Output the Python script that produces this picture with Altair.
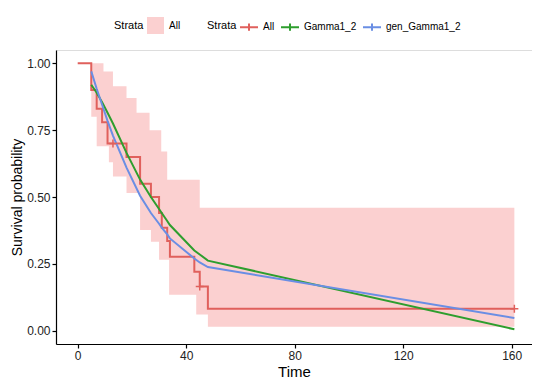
import altair as alt
import pandas as pd

# Kaplan-Meier estimate (All)
km_time = [0, 5, 7, 9, 11, 18, 23, 27, 30, 31, 33, 34, 43, 45, 48, 161]
km_surv = [1.0, 0.90, 0.83, 0.78, 0.70, 0.65, 0.55, 0.50, 0.44, 0.385, 0.335, 0.276, 0.22, 0.165, 0.082, 0.082]

# censoring marks
cens_time = [13, 45, 161]
cens_surv = [0.70, 0.165, 0.082]

# confidence band of KM
band_time = [0, 5, 7, 9.5, 11.5, 13, 18, 21.7, 23, 26.5, 27, 30, 30.8, 33, 33.7, 43.7, 45, 48, 161]
band_lower = [1.0, 0.80, 0.69, 0.69, 0.63, 0.577, 0.515, 0.515, 0.377, 0.377, 0.333, 0.265, 0.265, 0.265, 0.134, 0.06, 0.06, 0.015, 0.015]
band_upper = [1.0, 1.0, 1.0, 0.97, 0.97, 0.914, 0.87, 0.815, 0.815, 0.75, 0.75, 0.75, 0.67, 0.565, 0.565, 0.565, 0.46, 0.46, 0.46]

# parametric fits
fit_time = [5, 7, 9, 11, 13, 18, 23, 27, 30, 31, 33, 34, 43, 45, 48, 161]
gamma_surv = [0.92, 0.89, 0.855, 0.815, 0.775, 0.665, 0.565, 0.50, 0.455, 0.44, 0.41, 0.395, 0.30, 0.285, 0.262, 0.005]
gengamma_surv = [0.97, 0.905, 0.845, 0.785, 0.73, 0.61, 0.505, 0.44, 0.40, 0.385, 0.36, 0.345, 0.27, 0.255, 0.238, 0.047]

strata = ["All", "Gamma1_2", "gen_Gamma1_2"]
colors = ["#E0605C", "#2E9E2E", "#6A8EE4"]
band_color = "#FBD0D0"
FONT = "Liberation Sans"

km_df = pd.DataFrame({"time": km_time, "surv": km_surv, "strata": "All"})
cens_df = pd.DataFrame({"time": cens_time, "surv": cens_surv, "strata": "All"})
band_df = pd.DataFrame({"time": band_time, "lower": band_lower, "upper": band_upper, "strata": "All"})
fit_df = pd.concat([
    pd.DataFrame({"time": fit_time, "surv": gamma_surv, "strata": "Gamma1_2"}),
    pd.DataFrame({"time": fit_time, "surv": gengamma_surv, "strata": "gen_Gamma1_2"}),
])

xscale = alt.Scale(domain=[-8, 167.5], nice=False, zero=False)
yscale = alt.Scale(domain=[-0.05, 1.05], nice=False, zero=False)

xaxis = alt.Axis(values=[0, 40, 80, 120, 160], title="Time", grid=False,
                 domainColor="black", tickColor="black", tickSize=4, domainWidth=1.2, tickWidth=1.2,
                 labelFontSize=12, labelColor="#222222", titleFontSize=15, titleFontWeight="normal",
                 labelPadding=2, titlePadding=3, labelFont=FONT, titleFont=FONT, titleColor="black")
yaxis = alt.Axis(values=[0, 0.25, 0.5, 0.75, 1.0], format=".2f", title="Survival probability", grid=False,
                 domainColor="black", tickColor="black", tickSize=4, domainWidth=1.2, tickWidth=1.2,
                 labelFontSize=12, labelColor="#222222", titleFontSize=14, titleFontWeight="normal",
                 labelPadding=2, titlePadding=2, labelFont=FONT, titleFont=FONT, titleColor="black")

color_scale = alt.Scale(domain=strata, range=colors)

band = alt.Chart(band_df).mark_area(interpolate="step-after").encode(
    x=alt.X("time:Q", scale=xscale, axis=xaxis),
    y=alt.Y("lower:Q", scale=yscale, axis=yaxis),
    y2="upper:Q",
    fill=alt.Fill("strata:N", scale=alt.Scale(domain=["All"], range=[band_color]),
                  legend=alt.Legend(title="Strata", orient="none", legendX=58, legendY=-33,
                                    direction="horizontal", titleOrient="left",
                                    titleFontWeight="normal",
                                    symbolType="square", symbolSize=289, symbolStrokeWidth=0,
                                    labelOffset=5, titlePadding=3)),
)

line_legend = alt.Legend(title="Strata", orient="none", legendX=151, legendY=-33,
                         direction="horizontal", titleOrient="left", titleFontWeight="normal",
                         symbolType="M-1,0H1M0,-0.4V0.4", symbolSize=324, symbolStrokeWidth=2,
                         labelOffset=4, columnPadding=2, titlePadding=2)

km = alt.Chart(km_df).mark_line(interpolate="step-after", strokeWidth=2).encode(
    x="time:Q", y="surv:Q",
    color=alt.Color("strata:N", scale=color_scale, legend=line_legend),
)

cens = alt.Chart(cens_df).mark_point(shape="M-1,0H1M0,-1V1", size=64, strokeWidth=1.5, filled=False, opacity=1).encode(
    x="time:Q", y="surv:Q",
    color=alt.Color("strata:N", scale=color_scale, legend=line_legend),
)

fits = alt.Chart(fit_df).mark_line(strokeWidth=2).encode(
    x="time:Q", y="surv:Q",
    color=alt.Color("strata:N", scale=color_scale, legend=line_legend),
    detail="strata:N",
)

chart = alt.layer(band, km, fits, cens).properties(
    width=476, height=294,
    autosize=alt.AutoSizeParams(type="none"),
    padding={"left": 48, "top": 42, "right": 0, "bottom": 36},
).configure_view(stroke=None).configure_legend(
    labelFont=FONT, titleFont=FONT, labelFontSize=11, titleFontSize=11,
    titleFontWeight="normal", labelColor="black", titleColor="black",
).configure(font=FONT)

chart.save("out.html", embed_options={"renderer": "svg", "actions": False})
